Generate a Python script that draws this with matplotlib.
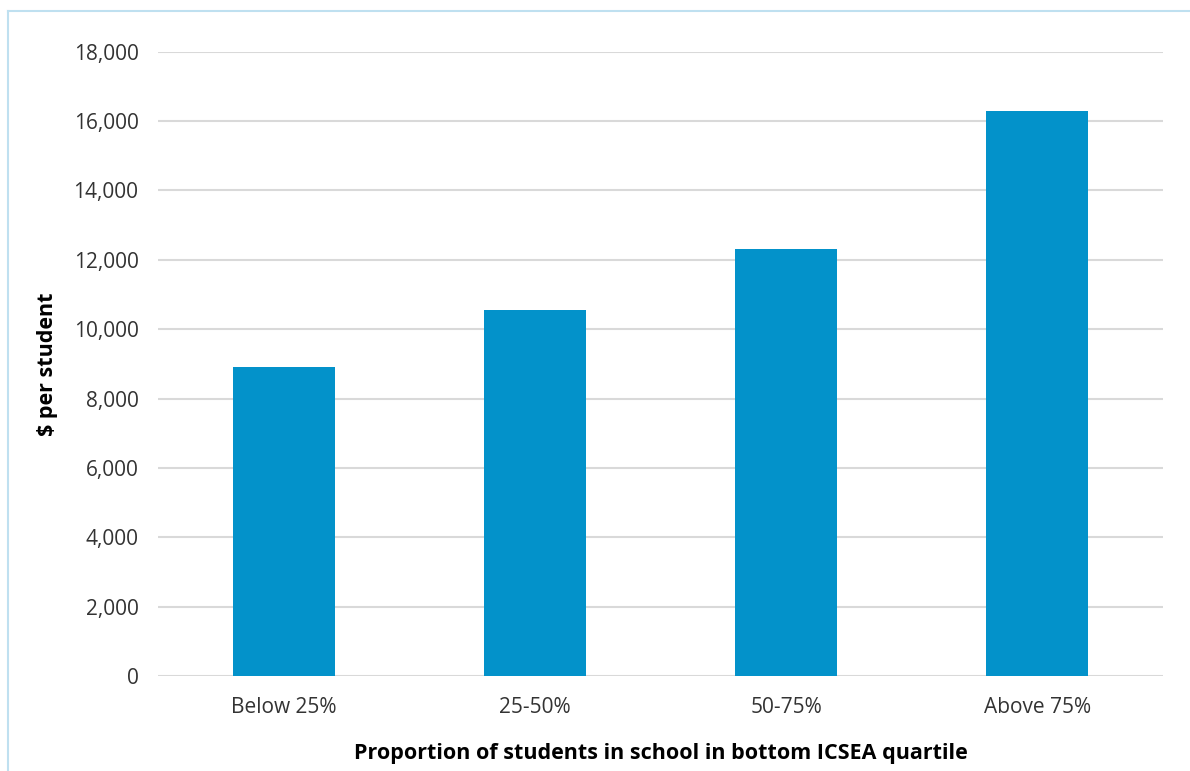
import matplotlib.pyplot as plt
from matplotlib.lines import Line2D
from matplotlib.ticker import FuncFormatter

categories = ['Below 25%', '25-50%', '50-75%', 'Above 75%']
spend_per_student = [8900, 10550, 12300, 16300]
y_ticks = list(range(0, 18001, 2000))

plt.rcParams['font.family'] = ['Open Sans', 'DejaVu Sans']

fig = plt.figure(figsize=(11.9, 7.71), dpi=100)
ax = fig.add_axes([158 / 1190, 1 - 676 / 771, (1163 - 158) / 1190, (676 - 51.7) / 771])

x = range(len(categories))
ax.bar(x, spend_per_student, width=0.405, color='#0392CA', zorder=3)

ax.set_xlim(-0.5, len(categories) - 0.5)
ax.set_ylim(0, 18000)
ax.set_yticks(y_ticks)
ax.yaxis.set_major_formatter(FuncFormatter(lambda v, p: f'{int(v):,}'))
ax.set_xticks(list(x))
ax.set_xticklabels(categories)

ax.grid(axis='y', color='#D9D9D9', linewidth=1.5, zorder=0)
for s in ax.spines.values():
    s.set_visible(False)
ax.tick_params(axis='both', length=0, labelsize=15, labelcolor='#333333')
ax.tick_params(axis='y', pad=14)
ax.tick_params(axis='x', pad=15)

ax.set_ylabel('$ per student', fontsize=15.5, fontweight='bold', labelpad=11)
ax.set_xlabel('Proportion of students in school in bottom ICSEA quartile',
              fontsize=15.5, fontweight='bold', labelpad=18)

# thin frame around the chart
frame_color = '#BFE0F0'
fig.add_artist(Line2D([8 / 1190, 8 / 1190], [0, 1 - 11 / 771], color=frame_color, lw=1.5))
fig.add_artist(Line2D([8 / 1190, 1], [1 - 11 / 771, 1 - 11 / 771], color=frame_color, lw=1.5))

fig.savefig('out.png', dpi=100)
